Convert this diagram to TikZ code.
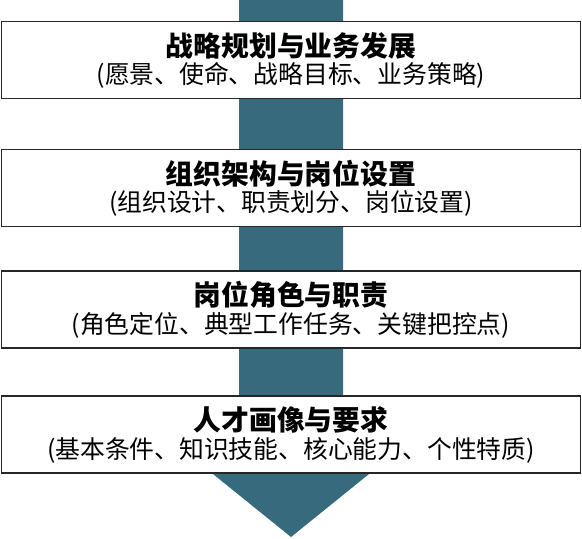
\documentclass[tikz,border=0pt]{standalone}
\usepackage{fontspec}
\setmainfont{Liberation Serif}
\newfontfamily\cjk{Noto Sans CJK SC}
\usetikzlibrary{calc,positioning}
\definecolor{flowteal}{RGB}{56,106,125}

\tikzset{
  stagebox/.style={draw=black!85, line width=1.5pt, fill=white, minimum width=579pt, minimum height=77pt, inner sep=0pt},
  stagetitle/.style={font=\cjk\bfseries\fontsize{27.8}{28}\selectfont, inner sep=0pt},
  stagenote/.style={font=\cjk\fontsize{24.8}{25}\selectfont, inner sep=0pt},
}

\begin{document}
\begin{tikzpicture}[x=1pt,y=-1pt]
\useasboundingbox (0,0) rectangle (582,539);
%% the big arrow behind the boxes
\fill[flowteal] (239,0) -- (343,0) -- (343,470) -- (374,470) -- (291,537) -- (208,470) -- (239,470) -- cycle;
\foreach \i/\cy/\title/\note in {1/60/战略规划与业务发展/(愿景、使命、战略目标、业务策略),
	2/188/组织架构与岗位设置/(组织设计、职责划分、岗位设置),
	3/309.5/岗位角色与职责/(角色定位、典型工作任务、关键把控点),
	4/434.5/人才画像与要求/(基本条件、知识技能、核心能力、个性特质)}{
	\node[stagebox] (b\i) at (291,\cy) {};
	\node[stagetitle] (t\i) at ($(b\i.north)+(0,25)$) {\title};
	\node[stagenote] (n\i) at ($(b\i.north)+(0,55)$) {\note};
}
\end{tikzpicture}
\end{document}
